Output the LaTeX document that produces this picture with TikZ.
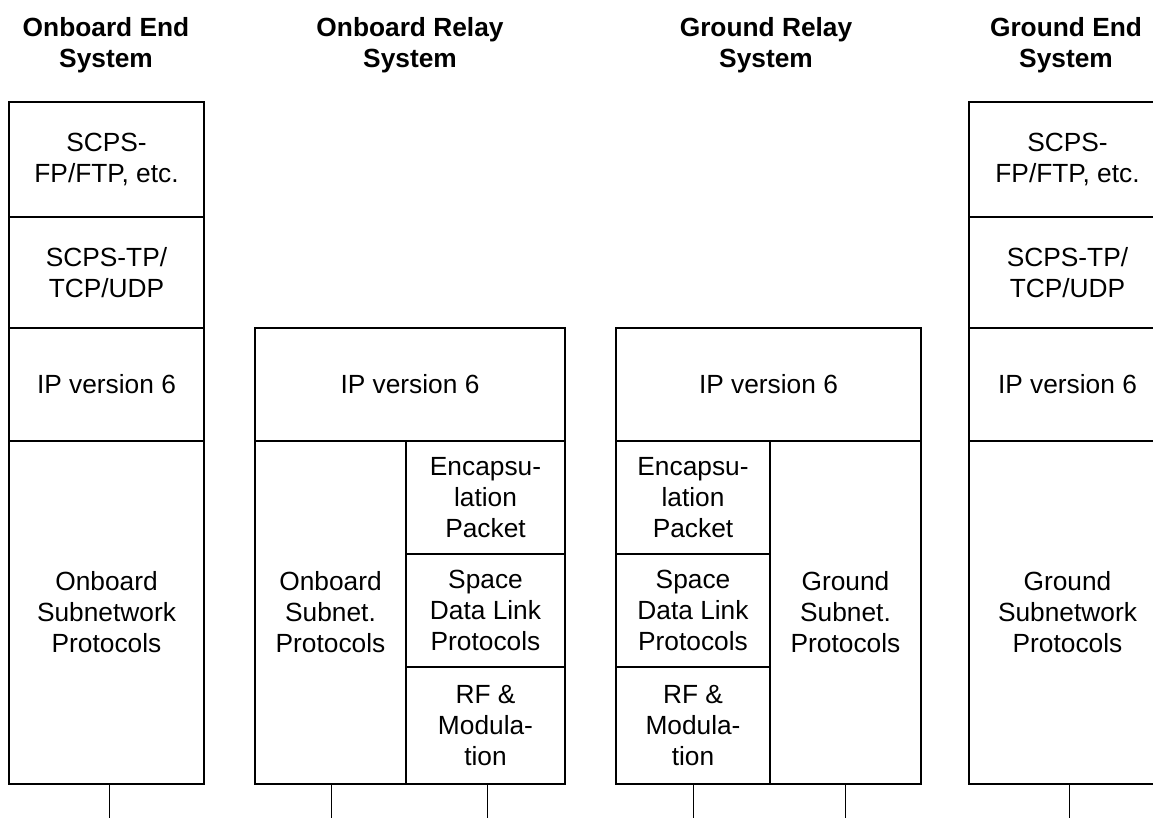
\documentclass[tikz,border=0pt]{standalone}
\usepackage{fontspec}
\setmainfont{Liberation Sans}
\begin{document}
\begin{tikzpicture}[x=1pt,y=-1pt,
  cell/.style={draw,line width=2.2pt,inner sep=0pt,outer sep=0pt,align=center,
    font=\fontsize{26.3}{31}\selectfont},
  title/.style={align=center,inner sep=0pt,font=\fontsize{26.3}{31}\selectfont\bfseries},
  tick/.style={line width=1pt}]
\useasboundingbox (0,0) rectangle (1153,818);
\clip (0,0) rectangle (1153,818);
\newcommand\cellbox[6]{\node[cell,minimum width={(#4-#2)*1pt},minimum height={(#5-#3)*1pt}] (#1) at ({(#2+#4)/2},{(#3+#5)/2}) {#6};}
% titles
\node[title] (t1) at (106,45) {Onboard End\\System};
\node[title] (t2) at (410,45) {Onboard Relay\\System};
\node[title] (t3) at (766,45) {Ground Relay\\System};
\node[title] (t4) at (1066,45) {Ground End\\System};
% onboard end system
\cellbox{a1}{9}{102}{204}{217}{SCPS-\\FP/FTP, etc.}
\cellbox{a2}{9}{217}{204}{328}{SCPS-TP/\\TCP/UDP}
\cellbox{a3}{9}{328}{204}{441}{IP version 6}
\cellbox{a4}{9}{441}{204}{784}{Onboard\\Subnetwork\\Protocols}
% onboard relay system
\cellbox{b1}{255}{328}{565}{441}{IP version 6}
\cellbox{b2}{255}{441}{406}{784}{Onboard\\Subnet.\\Protocols}
\cellbox{b3}{406}{441}{565}{554}{Encapsu-\\lation\\Packet}
\cellbox{b4}{406}{554}{565}{667}{Space\\Data Link\\Protocols}
\cellbox{b5}{406}{667}{565}{784}{RF \&\\Modula-\\tion}
% ground relay system
\cellbox{c1}{616}{328}{921}{441}{IP version 6}
\cellbox{c3}{616}{441}{770}{554}{Encapsu-\\lation\\Packet}
\cellbox{c4}{616}{554}{770}{667}{Space\\Data Link\\Protocols}
\cellbox{c5}{616}{667}{770}{784}{RF \&\\Modula-\\tion}
\cellbox{c2}{770}{441}{921}{784}{Ground\\Subnet.\\Protocols}
% ground end system
\cellbox{d1}{969}{102}{1166}{217}{SCPS-\\FP/FTP, etc.}
\cellbox{d2}{969}{217}{1166}{328}{SCPS-TP/\\TCP/UDP}
\cellbox{d3}{969}{328}{1166}{441}{IP version 6}
\cellbox{d4}{969}{441}{1166}{784}{Ground\\Subnetwork\\Protocols}
% ticks
\coordinate (k1) at (109,818);
\coordinate (k2) at (331,818);
\coordinate (k3) at (487,818);
\coordinate (k4) at (693,818);
\coordinate (k5) at (845,818);
\coordinate (k6) at (1069,818);
\draw[tick] (a4.south -| k1) -- (k1);
\draw[tick] (b2.south -| k2) -- (k2);
\draw[tick] (b5.south -| k3) -- (k3);
\draw[tick] (c5.south -| k4) -- (k4);
\draw[tick] (c2.south -| k5) -- (k5);
\draw[tick] (d4.south -| k6) -- (k6);
\end{tikzpicture}
\end{document}
